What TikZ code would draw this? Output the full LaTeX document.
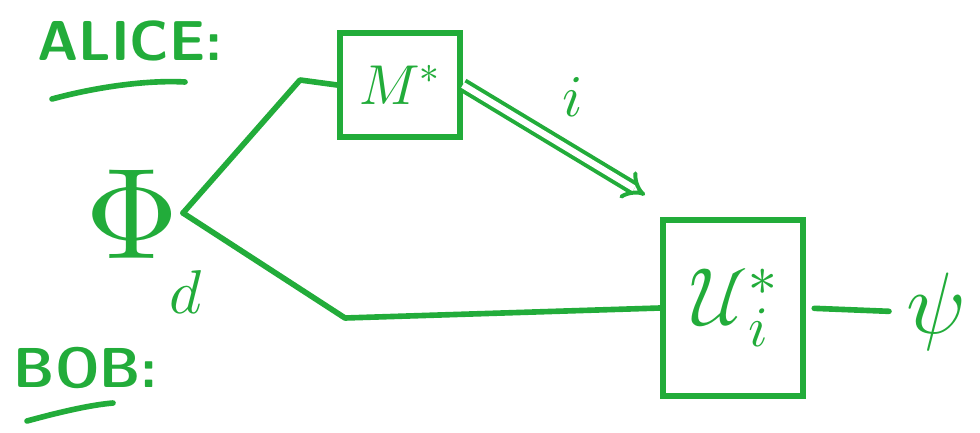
\documentclass[tikz,border=0pt]{standalone}
\usepackage{unicode-math}
\usetikzlibrary{arrows.meta}
\definecolor{pen}{RGB}{34,172,58}
\tikzset{
  ink/.style={draw=pen, line width=4pt, line cap=round, line join=round},
  lbl/.style={text=pen, inner sep=0pt},
  gate/.style={draw=pen, text=pen, line width=4pt, inner sep=0pt, fill=white}
}
\begin{document}
\begin{tikzpicture}[x=0.025cm, y=-0.025cm]
\useasboundingbox[fill=white] (0,0) rectangle (980,433);
% labels
\node[lbl, font=\sffamily\bfseries\fontsize{40}{44}\selectfont] (alice) at (130,41) {ALICE:};
\node[lbl, font=\sffamily\bfseries\fontsize{40}{44}\selectfont] (bob) at (86,368) {BOB:};
\draw[ink] (52,99) .. controls (100,86) and (150,80) .. (185,82);
\draw[ink] (27,421) .. controls (60,412) and (90,405) .. (113,403);
% state
\node[lbl, font=\fontsize{92}{92}\selectfont] (phi) at (132,214) {$\Phi$};
\node[lbl, font=\fontsize{44}{44}\selectfont] (d) at (186,292) {$d$};
\coordinate (v) at (183,213);
% gates
\node[gate, minimum width=3cm, minimum height=2.6cm, font=\fontsize{40}{40}\selectfont] (M) at (400,85) {$M^{*}$};
\node[gate, minimum width=3.5cm, minimum height=4.4cm, font=\fontsize{58}{58}\selectfont] (U) at (733,308) {$\mathcal{U}_{i}^{*}$};
\node[lbl, font=\fontsize{62}{62}\selectfont] (psi) at (935,312) {$\psi$};
% wires
\draw[ink] (v) -- (300,80) -- (M.west);
\draw[ink] (v) -- (345,318) -- (U.west);
\draw[ink, shorten <=6pt, shorten >=12pt] (U.east) -- (psi.west);
% classical arrow
\coordinate (tip) at (645,195);
\draw[draw=pen, line width=2.8pt, double=white, double distance=4.5pt, -{Implies[length=12pt]}] (M.east) -- (tip);
\node[lbl, font=\fontsize{42}{42}\selectfont] (i) at (573,97) {$i$};
\end{tikzpicture}
\end{document}
